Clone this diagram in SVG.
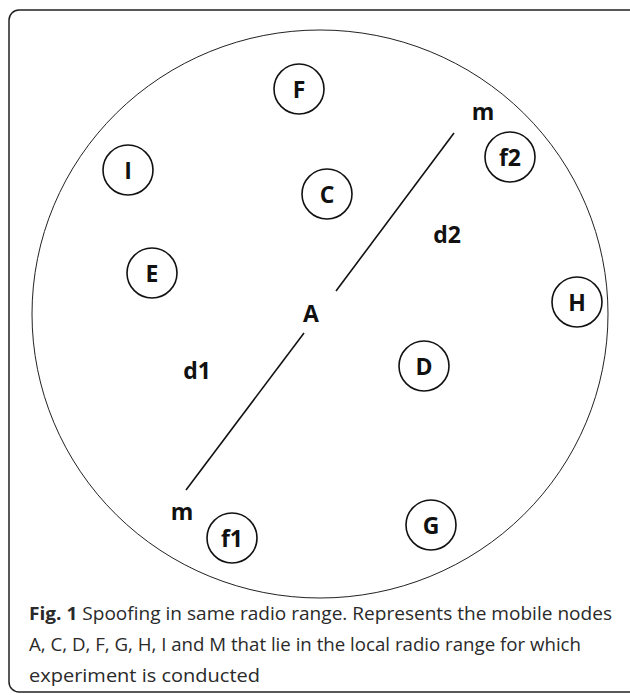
<svg xmlns="http://www.w3.org/2000/svg" width="630" height="695" viewBox="0 0 630 695">
  <style>
    .node circle { fill: #fff; stroke: #111; stroke-width: 1.6; }
    .lbl { font-family: "Open Sans", "Liberation Sans", sans-serif; font-weight: bold; font-size: 23px; fill: #111; text-anchor: middle; dominant-baseline: central; }
    .cap { font-family: "Open Sans", "Liberation Sans", sans-serif; font-size: 18px; fill: #2a2a2a; }
  </style>
  <rect width="630" height="695" fill="#fff"/>
  <!-- figure frame -->
  <rect x="9" y="10" width="630" height="682" rx="10" fill="none" stroke="#222" stroke-width="1.5"/>
  <!-- radio range -->
  <ellipse cx="320" cy="314" rx="288" ry="284" fill="none" stroke="#222" stroke-width="1"/>

  <g id="connectors" stroke="#111" stroke-width="1.6" fill="none">
    <line x1="454" y1="133" x2="336" y2="291"/>
    <line x1="304" y1="333" x2="186" y2="490"/>
  </g>

  <g id="node-F" class="node"><circle cx="299" cy="89" r="25"/><text class="lbl" x="299" y="89">F</text></g>
  <g id="node-I" class="node"><circle cx="128" cy="170" r="25"/><text class="lbl" x="128" y="170">I</text></g>
  <g id="node-C" class="node"><circle cx="327" cy="194" r="25"/><text class="lbl" x="327" y="194">C</text></g>
  <g id="node-E" class="node"><circle cx="152" cy="273" r="25"/><text class="lbl" x="152" y="273">E</text></g>
  <g id="node-f2" class="node"><circle cx="510" cy="157" r="25"/><text class="lbl" x="510" y="157">f2</text></g>
  <g id="node-H" class="node"><circle cx="577" cy="302" r="25"/><text class="lbl" x="577" y="302">H</text></g>
  <g id="node-D" class="node"><circle cx="424" cy="366" r="25"/><text class="lbl" x="424" y="366">D</text></g>
  <g id="node-G" class="node"><circle cx="431" cy="525" r="25"/><text class="lbl" x="431" y="525">G</text></g>
  <g id="node-f1" class="node"><circle cx="232" cy="538" r="25"/><text class="lbl" x="232" y="538">f1</text></g>
  <g id="node-A"><text class="lbl" x="311" y="313">A</text></g>
  <g id="node-m2"><text class="lbl" x="483" y="111">m</text></g>
  <g id="node-m1"><text class="lbl" x="182" y="511">m</text></g>

  <g id="distances">
    <text class="lbl" x="447" y="234">d2</text>
    <text class="lbl" x="197" y="370">d1</text>
  </g>

  <g id="caption">
    <text class="cap" x="29" y="620" textLength="583" lengthAdjust="spacingAndGlyphs"><tspan font-weight="bold">Fig. 1</tspan> Spoofing in same radio range. Represents the mobile nodes</text>
    <text class="cap" x="29" y="651" textLength="552" lengthAdjust="spacingAndGlyphs">A, C, D, F, G, H, I and M that lie in the local radio range for which</text>
    <text class="cap" x="29" y="682" textLength="231" lengthAdjust="spacingAndGlyphs">experiment is conducted</text>
  </g>
</svg>
